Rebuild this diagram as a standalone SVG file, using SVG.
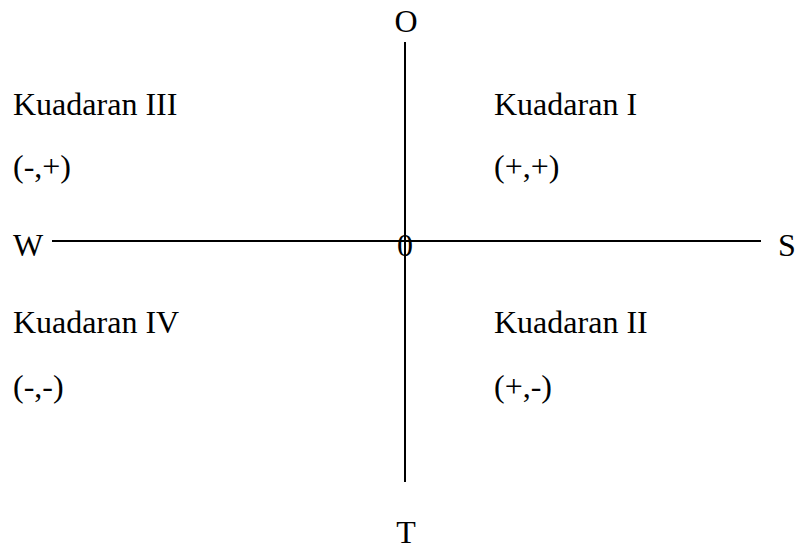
<svg xmlns="http://www.w3.org/2000/svg" width="800" height="552" viewBox="0 0 800 552">
<style>
text{font-family:"Liberation Serif","Times New Roman",serif;font-size:32px;fill:#000}
.ax{stroke:#000;stroke-width:2;fill:none}
</style>
<rect width="800" height="552" fill="#fff"/>
<g id="connectors">
<line class="ax" x1="405" y1="42" x2="405" y2="482"/>
<line class="ax" x1="52" y1="241" x2="761" y2="241"/>
</g>
<g id="axis-O"><text x="406" y="32" text-anchor="middle">O</text></g>
<g id="axis-T"><text x="406" y="543" text-anchor="middle">T</text></g>
<g id="axis-W"><text x="13" y="256">W</text></g>
<g id="axis-S"><text x="778" y="256">S</text></g>
<g id="origin"><text x="405" y="256" text-anchor="middle">0</text></g>
<g id="q3"><text x="13" y="115">Kuadaran III</text><text x="13" y="177">(-,+)</text></g>
<g id="q1"><text x="494" y="115">Kuadaran I</text><text x="494" y="177">(+,+)</text></g>
<g id="q4"><text x="13" y="333">Kuadaran IV</text><text x="13" y="397">(-,-)</text></g>
<g id="q2"><text x="494" y="333">Kuadaran II</text><text x="494" y="397">(+,-)</text></g>
</svg>
